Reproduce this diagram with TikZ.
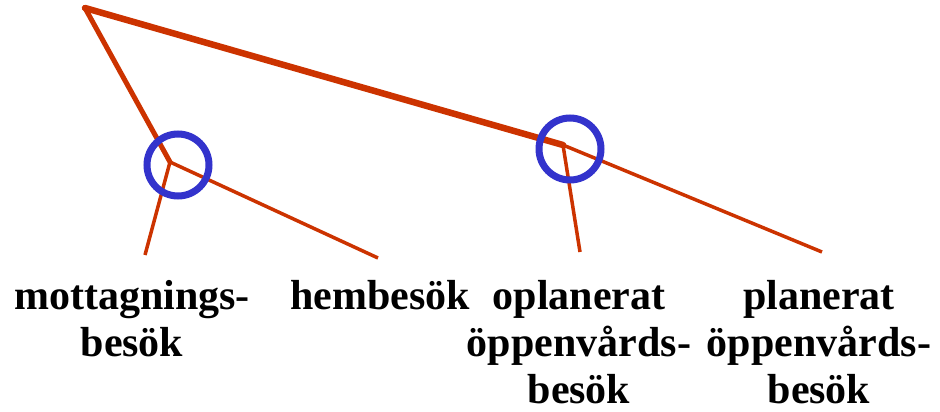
\documentclass[tikz,border=0pt]{standalone}
\usepackage{fontspec}
\setmainfont{Liberation Serif}
\usetikzlibrary{positioning, calc}
\definecolor{branch}{HTML}{CC3300}
\definecolor{ring}{HTML}{3333CC}

\tikzset{
  stem/.style={branch, line cap=round},
  limb/.style={branch, line width=3.5pt},
  ringmark/.style={ring, line width=7pt},
  leaf/.style={font=\bfseries\fontsize{42}{47}\selectfont, align=center, anchor=north, inner sep=0pt}
}

\begin{document}
\begin{tikzpicture}[x=1pt, y=-1pt]
    \useasboundingbox (0,0) rectangle (940,412);
    % Knoten des Baums
    \coordinate (root) at (85,8);
    \coordinate (home) at (170,162);
    \coordinate (open) at (563,145);
    % Blattbeschriftungen
    \node[leaf] (mott) at (132,280) {mottagnings-\\besök};
    \node[leaf] (hemb) at (380,280) {hembesök};
    \node[leaf] (opla) at (579,280) {oplanerat\\öppenvårds-\\besök};
    \node[leaf] (plan) at (819,280) {planerat\\öppenvårds-\\besök};
    % freie Enden der Zweige
    \coordinate (mottend) at (145,255);
    \coordinate (hembend) at (378,258);
    \coordinate (oplaend) at (580,252);
    \coordinate (planend) at (822,252);
    % Zweige
    \draw[stem, line width=5pt] (root) -- (home);
    \draw[stem, line width=6.5pt] (root) -- (open);
    \draw[limb] (home) -- (mottend);
    \draw[limb] (home) -- (hembend);
    \draw[limb] (open) -- (oplaend);
    \draw[limb] (open) -- (planend);
    % Markierungen
    \draw[ringmark] ($(home)+(8,3)$) circle (31);
    \draw[ringmark] ($(open)+(7,4)$) circle (31);
  \end{tikzpicture}
\end{document}
